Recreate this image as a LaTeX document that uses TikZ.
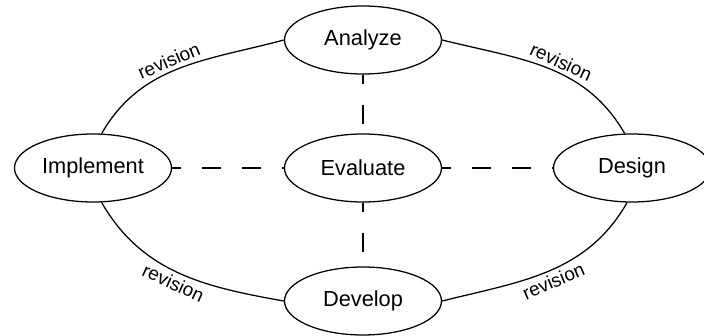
\documentclass[tikz,border=0pt]{standalone}
\usepackage{fontspec}
\setmainfont{Liberation Sans}
\usetikzlibrary{shapes.geometric}
\begin{document}
\begin{tikzpicture}[
stage/.style={draw,ellipse,line width=0.9pt,minimum width=3.925cm,minimum height=1.7cm,inner sep=0pt,font=\fontsize{15.5}{18}\selectfont},
cycleline/.style={line width=0.9pt},
dashlink/.style={line width=0.9pt,dash pattern=on 13.5pt off 15pt,dash phase=7pt},
revlabel/.style={font=\fontsize{13.5}{16}\selectfont,sloped,inner sep=2.5pt}]
\useasboundingbox (0,0) rectangle (17.6,8.4);
\node[stage] (A) at (9.075,7.4) {Analyze};
\node[stage] (E) at (9.075,4.2) {Evaluate};
\node[stage] (I) at (2.325,4.2) {Implement};
\node[stage] (D) at (15.8,4.2) {Design};
\node[stage] (V) at (9.075,0.875) {Develop};
\path[cycleline]
(I.76) edge[out=60,in=195] node[revlabel,above,pos=0.47] {revision} (A.west)
(A.east) edge[out=-14,in=120] node[revlabel,above,pos=0.55] {revision} (D.102)
(I.284) edge[out=-60,in=170] node[revlabel,below,pos=0.5] {revision} (V.west)
(V.east) edge[out=14,in=240] node[revlabel,below,pos=0.5] {revision} (D.262);
\path[dashlink]
(I) edge (E)
(E) edge (D)
(A) edge (E)
(E) edge (V);
\end{tikzpicture}
\end{document}
